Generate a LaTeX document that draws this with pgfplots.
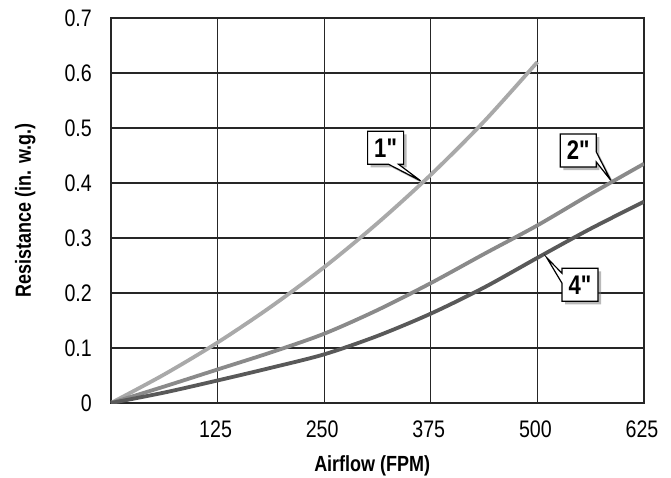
\documentclass[border=0pt]{standalone}
\usepackage{fontspec}
\setmainfont{Liberation Sans}[FakeStretch=0.82]
\newfontfamily\callfont{Liberation Sans}[FakeStretch=0.82]
\usepackage{pgfplots}
\pgfplotsset{compat=1.18}
\usetikzlibrary{shapes.callouts,shadows}

\definecolor{oneinch}{HTML}{A9A9A9}
\definecolor{twoinch}{HTML}{8A8A8A}
\definecolor{fourinch}{HTML}{595959}

\tikzset{
  callbox/.style={rectangle callout, draw=black, line width=1.2bp, fill=white,
    font=\callfont\bfseries\fontsize{27}{30}\selectfont, minimum width=36bp,
    minimum height=33bp, inner sep=0pt, callout pointer width=10bp,
    drop shadow={shadow xshift=3bp, shadow yshift=-3bp, fill=black!55}}
}

\begin{document}
\begin{tikzpicture}
  \path[use as bounding box] (-111bp,-75bp) rectangle (560bp,403bp);
  \begin{axis}[
      scale only axis,
      width=533bp, height=385bp,
      xmin=0, xmax=625, ymin=0, ymax=0.7,
      xtick={125,250,375,500,625},
      ytick={0,0.1,0.2,0.3,0.4,0.5,0.6,0.7},
      major tick length=0pt,
      grid=major,
      major grid style={line width=1.1bp, black!85},
      axis line style={line width=1.3bp, black!85},
      /pgf/number format/assume math mode=true,
      tick label style={font=\fontsize{24}{28}\selectfont, inner sep=0pt},
      xticklabel style={anchor=base, yshift=-34bp, xshift=-2bp},
      yticklabel style={anchor=east, xshift=-19bp},
      xlabel={Airflow (FPM)},
      ylabel={Resistance (in. w.g.)},
      every axis x label/.style={at={([yshift=-68bp]axis description cs:0.49,0)},
        anchor=base, font=\bfseries\fontsize{22}{26}\selectfont},
      every axis y label/.style={at={([xshift=-80bp]axis description cs:0,0.5)},
        rotate=90, anchor=base, font=\bfseries\fontsize{22}{26}\selectfont},
    ]
    % 1 inch
    \addplot[oneinch, line width=3.8bp, smooth] coordinates {
      (0,0) (62.5,0.052) (125,0.110) (187.5,0.175) (250,0.247)
      (312.5,0.327) (375,0.415) (437.5,0.512) (500,0.62)
    };
    % 2 inch
    \addplot[twoinch, line width=3.8bp, smooth] coordinates {
      (0,0) (62.5,0.030) (125,0.061) (187.5,0.092) (250,0.126)
      (312.5,0.169) (375,0.218) (437.5,0.271) (500,0.323)
      (562.5,0.380) (625,0.435)
    };
    % 4 inch
    \addplot[fourinch, line width=3.8bp, smooth] coordinates {
      (0,0) (62.5,0.019) (125,0.041) (187.5,0.064) (250,0.0885)
      (312.5,0.122) (375,0.1625) (437.5,0.210) (500,0.264)
      (562.5,0.317) (625,0.366)
    };

    \node[callbox, callout absolute pointer={(axis cs:363,0.404)}] at (axis cs:322,0.464) {1"};
    \node[callbox, callout absolute pointer={(axis cs:586,0.405)}] at (axis cs:548,0.459) {2"};
    \node[callbox, callout absolute pointer={(axis cs:511,0.264)}] at (axis cs:550,0.215) {4"};
  \end{axis}
\end{tikzpicture}
\end{document}
